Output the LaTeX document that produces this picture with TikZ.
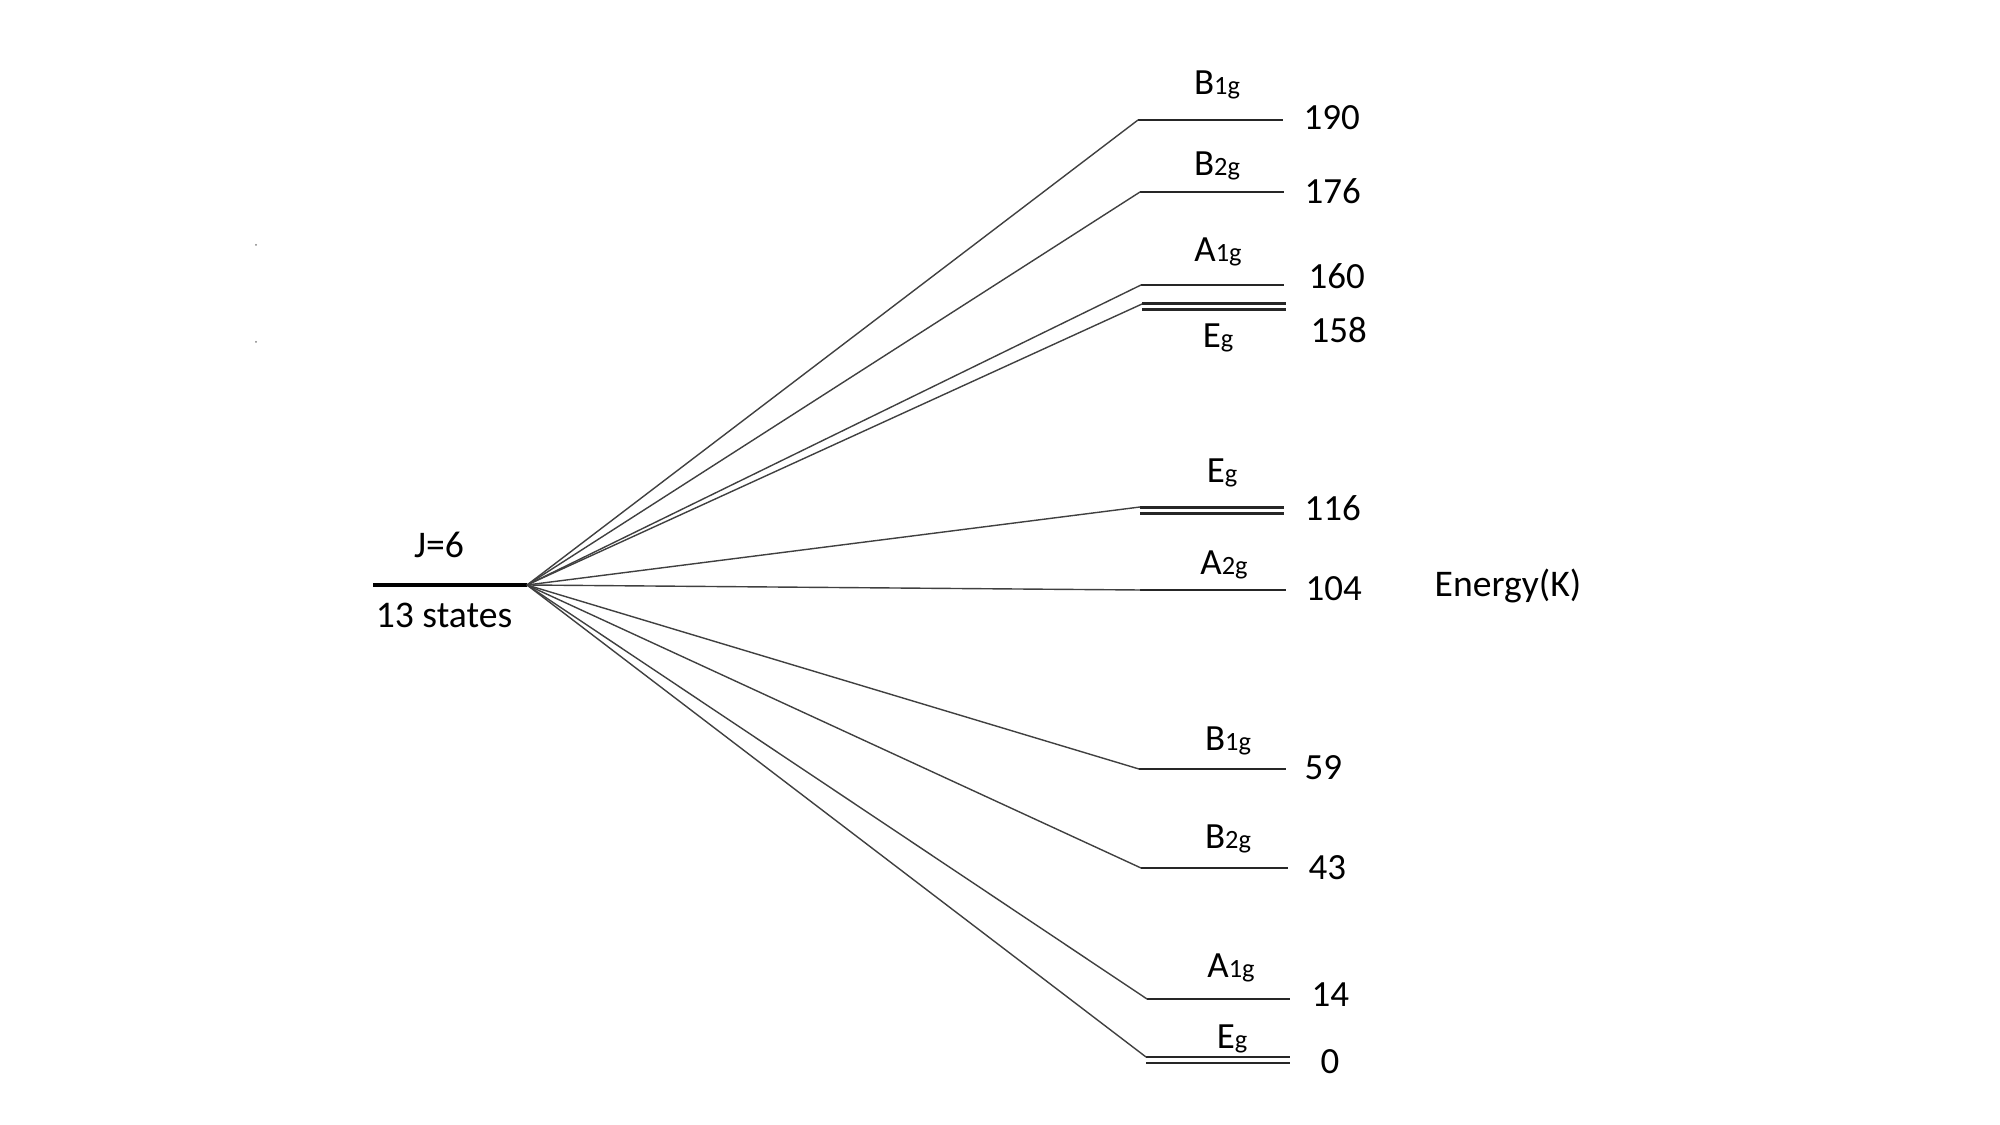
\documentclass[tikz,border=0pt]{standalone}
\usepackage{fontspec}
\setmainfont{Carlito}
\usetikzlibrary{calc}
\tikzset{
  lvl/.style={draw=black!85, line width=0.6pt},
  lvld/.style={lvl, double, double distance=1.1pt},
  fan/.style={draw=black!75, line width=0.4pt},
  ground/.style={draw=black, line width=1.1pt},
  sym/.style={anchor=base, inner sep=0pt, font=\fontsize{10.5}{12}\selectfont},
  val/.style={anchor=west, inner sep=0pt, font=\fontsize{10.5}{12}\selectfont},
  lbl/.style={anchor=base, inner sep=0pt, font=\fontsize{10.7}{12}\selectfont},
}
\newcommand{\irrep}[2]{#1{\fontsize{7.5}{8}\selectfont #2}}

\begin{document}
\begin{tikzpicture}[x=0.01cm, y=-0.01cm]
  \useasboundingbox (0,0) rectangle (2000,1125);
  % free ion level
  \coordinate (j0) at (373,585);
  \coordinate (c)  at (527,585);
  \draw[ground] (j0) -- (c);
  \node[lbl] (jlab) at (439,558) {J=6};
  \node[lbl] (nst)  at (444,628) {13 states};
  % crystal field levels
  \coordinate (b1u-l) at (1138,120);  \coordinate (b1u-r) at (1283,120);
  \coordinate (b2u-l) at (1140,192);  \coordinate (b2u-r) at (1284,192);
  \coordinate (a1u-l) at (1141,285);  \coordinate (a1u-r) at (1284,285);
  \coordinate (egu-l) at (1142,306.5); \coordinate (egu-r) at (1286,306.5);
  \coordinate (egu-t) at (1142,304);
  \coordinate (egm-l) at (1140,510.5); \coordinate (egm-r) at (1284,510.5);
  \coordinate (egm-t) at (1140,507);
  \coordinate (a2m-l) at (1140,590);  \coordinate (a2m-r) at (1286,590);
  \coordinate (b1d-l) at (1139,769);  \coordinate (b1d-r) at (1286,769);
  \coordinate (b2d-l) at (1141,868);  \coordinate (b2d-r) at (1288,868);
  \coordinate (a1d-l) at (1147,999);  \coordinate (a1d-r) at (1290,999);
  \coordinate (egd-l) at (1146,1060); \coordinate (egd-r) at (1290,1060);
  \coordinate (egd-t) at (1146,1057);
  \draw[lvl]  (b1u-l) -- (b1u-r);
  \draw[lvl]  (b2u-l) -- (b2u-r);
  \draw[lvl]  (a1u-l) -- (a1u-r);
  \draw[lvld] (egu-l) -- (egu-r);
  \draw[lvld] (egm-l) -- (egm-r);
  \draw[lvl]  (a2m-l) -- (a2m-r);
  \draw[lvl]  (b1d-l) -- (b1d-r);
  \draw[lvl]  (b2d-l) -- (b2d-r);
  \draw[lvl]  (a1d-l) -- (a1d-r);
  \draw[lvld] (egd-l) -- (egd-r);
  % splitting lines
  \draw[fan] (c) -- (b1u-l);
  \draw[fan] (c) -- (b2u-l);
  \draw[fan] (c) -- (a1u-l);
  \draw[fan] (c) -- (egu-t);
  \draw[fan] (c) -- (egm-t);
  \draw[fan] (c) -- (a2m-l);
  \draw[fan] (c) -- (b1d-l);
  \draw[fan] (c) -- (b2d-l);
  \draw[fan] (c) -- (a1d-l);
  \draw[fan] (c) -- (egd-t);
  % symmetry labels
  \node[sym] (s1)  at (1217,95)   {\irrep{B}{1g}};
  \node[sym] (s2)  at (1217,176)  {\irrep{B}{2g}};
  \node[sym] (s3)  at (1218,262)  {\irrep{A}{1g}};
  \node[sym] (s4)  at (1218,348)  {\irrep{E}{g}};
  \node[sym] (s5)  at (1222,483)  {\irrep{E}{g}};
  \node[sym] (s6)  at (1224,575)  {\irrep{A}{2g}};
  \node[sym] (s7)  at (1228,750)  {\irrep{B}{1g}};
  \node[sym] (s8)  at (1228,848)  {\irrep{B}{2g}};
  \node[sym] (s9)  at (1231,977)  {\irrep{A}{1g}};
  \node[sym] (s10) at (1232,1048) {\irrep{E}{g}};
  % energies
  \node[val] (e1)  at (1303,118)  {190};
  \node[val] (e2)  at (1304,191)  {176};
  \node[val] (e3)  at (1308,276)  {160};
  \node[val] (e4)  at (1310,330)  {158};
  \node[val] (e5)  at (1304,508)  {116};
  \node[val] (e6)  at (1305,589)  {104};
  \node[val] (e7)  at (1304,768)  {59};
  \node[val] (e8)  at (1308,868)  {43};
  \node[val] (e9)  at (1311,995)  {14};
  \node[val] (e10) at (1320,1062) {0};
  \node[lbl] (unit) at (1508,597) {Energy(K)};
  % stray marks
  \fill[black!50] (256,245) circle (1);
  \fill[black!50] (256,342) circle (1);
\end{tikzpicture}
\end{document}
